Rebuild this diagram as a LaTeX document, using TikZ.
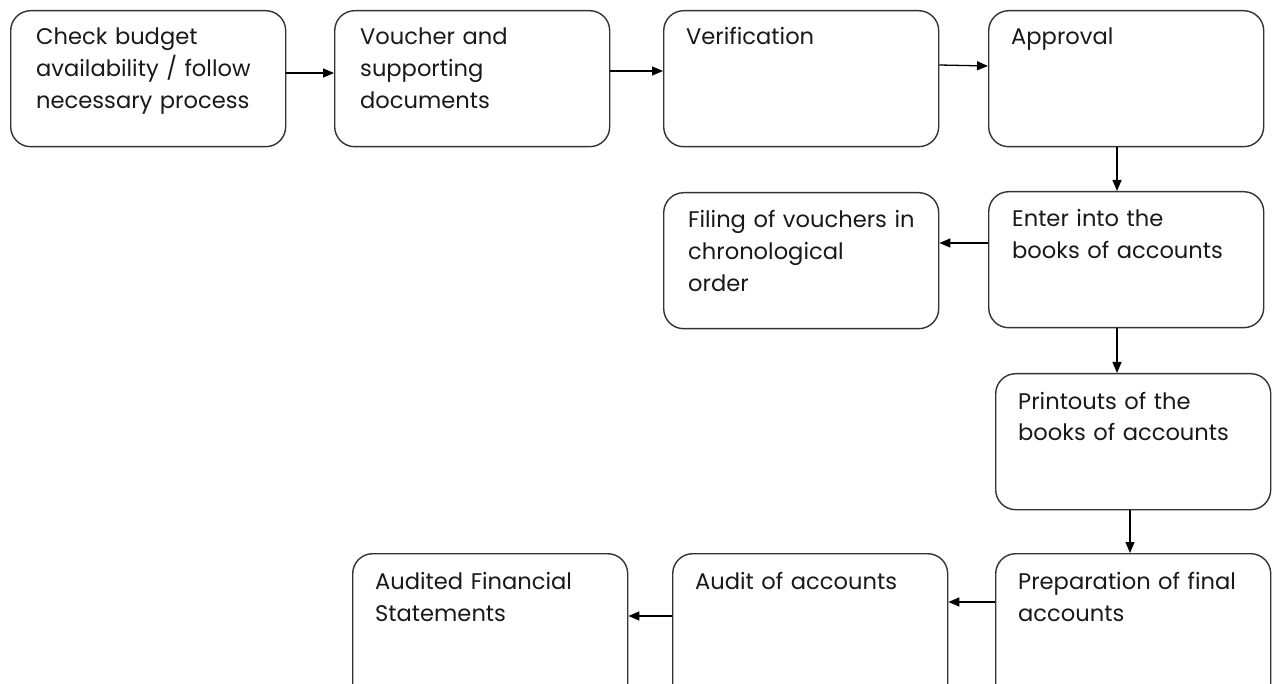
\documentclass[tikz,border=0pt]{standalone}
\usepackage{fontspec}
\setmainfont{Poppins}
\usetikzlibrary{arrows.meta}
\begin{document}
\begin{tikzpicture}[x=1pt,y=-1pt,
  box/.style={draw=black!80, line width=1.4pt, rounded corners=20pt, anchor=north west,
    minimum width=275pt, minimum height=136pt, inner sep=0pt},
  lbl/.style={anchor=base west, inner sep=0pt, text width=260pt, align=left,
    font=\fontsize{22.6}{32}\selectfont, text=black!90},
  arr/.style={draw=black, line width=1.3pt, -{Triangle[length=11pt,width=9pt]}}]
\clip (0,0) rectangle (1274,684);
\fill[white] (0,0) rectangle (1274,684);
% boxes
\node[box] (b1) at (10,10) {};
\node[box] (b2) at (334,10) {};
\node[box] (b3) at (663,10) {};
\node[box] (b4) at (988,10) {};
\node[box] (b5) at (988,191) {};
\node[box] (b6) at (663,192) {};
\node[box] (b7) at (995,373) {};
\node[box, minimum height=170pt] (b8) at (995,553) {};
\node[box, minimum height=170pt] (b9) at (672,553) {};
\node[box, minimum height=170pt] (b10) at (352,553) {};
% labels
\node[lbl] (t1) at (36,45) {Check budget\\availability / follow\\necessary process};
\node[lbl] (t2) at (360,45) {Voucher and\\supporting\\documents};
\node[lbl] (t3) at (686,45) {Verification};
\node[lbl] (t4) at (1011,45) {Approval};
\node[lbl] (t5) at (1012,227) {Enter into the\\books of accounts};
\node[lbl] (t6) at (688,228) {Filing of vouchers in\\chronological\\order};
\node[lbl] (t7) at (1018,409) {Printouts of the\\books of accounts};
\node[lbl] (t8) at (1018,589) {Preparation of final\\accounts};
\node[lbl] (t9) at (695,589) {Audit of accounts};
\node[lbl] (t10) at (375,589) {Audited Financial\\Statements};
% connectors
\draw[arr] (b1.east |- 0,73) -- (b2.west |- 0,73);
\draw[arr] (b2.east |- 0,71) -- (b3.west |- 0,71);
\draw[arr] (b3.east |- 0,65) -- (b4.west |- 0,66);
\draw[arr] (b4.south -| 1117,0) -- (b5.north -| 1117,0);
\draw[arr] (b5.west |- 0,243) -- (b6.east |- 0,243);
\draw[arr] (b5.south -| 1117,0) -- (b7.north -| 1117,0);
\draw[arr] (b7.south -| 1130,0) -- (b8.north -| 1130,0);
\draw[arr] (b8.west |- 0,602) -- (b9.east |- 0,602);
\draw[arr] (b9.west |- 0,616) -- (b10.east |- 0,616);
\end{tikzpicture}
\end{document}
